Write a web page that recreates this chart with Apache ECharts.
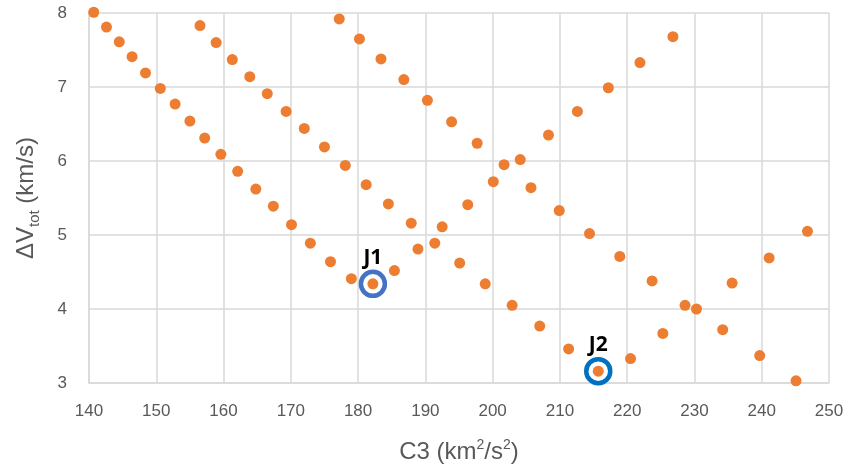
<!DOCTYPE html>
<html>
<head>
<meta charset="utf-8">
<script src="https://cdn.jsdelivr.net/npm/echarts@6/dist/echarts.min.js"></script>
<style>
  html, body { margin: 0; padding: 0; background: #fff; }
  #chart { width: 849px; height: 469px; }
</style>
</head>
<body>
<div id="chart"></div>
<script>
  // C3 (km2/s2), dVtot (km/s)
  const famA = [[140.7, 8.01], [142.6, 7.81], [144.5, 7.61], [146.4, 7.41], [148.4, 7.19], [150.6, 6.98],
    [152.8, 6.77], [155.0, 6.54], [157.2, 6.31], [159.6, 6.09], [162.1, 5.86], [164.8, 5.62],
    [167.4, 5.39], [170.1, 5.14], [172.9, 4.89], [175.9, 4.64], [179.0, 4.41]]
  const famB = [[156.5, 7.83], [158.9, 7.60], [161.3, 7.37], [163.9, 7.14], [166.5, 6.91], [169.3, 6.67],
    [172.0, 6.44], [175.0, 6.19], [178.1, 5.94], [181.2, 5.68], [184.5, 5.42], [187.9, 5.16],
    [191.4, 4.89], [195.1, 4.62], [198.9, 4.34], [202.9, 4.05], [207.0, 3.77], [211.3, 3.46]]
  const famC = [[177.2, 7.92], [180.2, 7.65], [183.4, 7.38], [186.8, 7.10], [190.3, 6.82], [193.9, 6.53],
    [197.7, 6.24], [201.7, 5.95], [205.7, 5.64], [209.9, 5.33], [214.4, 5.02], [218.9, 4.71],
    [223.7, 4.38], [228.6, 4.05], [234.2, 3.72], [239.7, 3.37], [245.1, 3.03]]
  const famD = [[185.4, 4.52], [188.9, 4.81], [192.5, 5.11], [196.3, 5.41], [200.1, 5.72], [204.1, 6.02],
    [208.3, 6.35], [212.6, 6.67], [217.2, 6.99], [221.9, 7.33], [226.8, 7.68]]
  const famE = [[220.5, 3.33], [225.3, 3.67], [230.3, 4.00], [235.6, 4.35], [241.1, 4.69], [246.8, 5.05]]
  const j1 = [182.2, 4.34]
  const j2 = [215.7, 3.16]

  const orange = '#ED7D31'
  const gridColor = '#D9D9D9'
  const labelColor = '#595959'
  const font = 'Liberation Sans Narrow, Liberation Sans'

  const chart = echarts.init(document.getElementById('chart'))
  const allPoints = [].concat(famA, famB, famC, famD, famE, [j1, j2])

  chart.setOption({
    animation: false,
    grid: { left: 89, right: 20, top: 13, bottom: 86 },
    xAxis: {
      type: 'value',
      min: 140,
      max: 250,
      interval: 10,
      name: 'C3 (km{sup|2}/s{sup|2})',
      nameLocation: 'middle',
      nameGap: 55,
      nameTextStyle: {
        color: labelColor,
        fontSize: 24,
        fontFamily: font,
        rich: {
          sup: { fontSize: 14, verticalAlign: 'top', color: labelColor, lineHeight: 28, fontFamily: font }
        }
      },
      axisLine: { show: true, lineStyle: { color: gridColor, width: 1.5 } },
      axisTick: { show: false },
      axisLabel: { color: labelColor, fontSize: 17, margin: 20, fontFamily: font },
      splitLine: { show: true, lineStyle: { color: gridColor, width: 1.5 } }
    },
    yAxis: {
      type: 'value',
      min: 3,
      max: 8,
      interval: 1,
      name: '{a|ΔV}{sub|tot}{a| (km/s)}',
      nameLocation: 'middle',
      nameRotate: 90,
      nameGap: 47,
      nameTextStyle: {
        color: labelColor,
        fontFamily: font,
        rich: {
          a: { fontSize: 24, color: labelColor, lineHeight: 32, fontFamily: font },
          sub: { fontSize: 15, color: labelColor, verticalAlign: 'bottom', lineHeight: 32, fontFamily: font }
        }
      },
      axisLine: { show: true, lineStyle: { color: gridColor, width: 1.5 } },
      axisTick: { show: false },
      axisLabel: { color: labelColor, fontSize: 17, margin: 22, fontFamily: font },
      splitLine: { show: true, lineStyle: { color: gridColor, width: 1.5 } }
    },
    series: [
      {
        type: 'scatter',
        z: 1,
        clip: false,
        symbolSize: 24,
        data: [
          { value: j1, itemStyle: { borderColor: '#4472C4' }, label: { formatter: 'J1' } },
          { value: j2, itemStyle: { borderColor: '#0070C0' }, label: { formatter: 'J2' } }
        ],
        itemStyle: { color: '#fff', borderWidth: 4.5, opacity: 1 },
        label: {
          show: true,
          position: 'top',
          distance: 1,
          color: '#000',
          fontSize: 21,
          fontWeight: 'bold',
          fontFamily: 'Open Sans'
        }
      },
      {
        type: 'scatter',
        z: 2,
        clip: false,
        symbolSize: 11,
        data: allPoints,
        itemStyle: { color: orange, opacity: 1 }
      }
    ]
  })
</script>
</body>
</html>
